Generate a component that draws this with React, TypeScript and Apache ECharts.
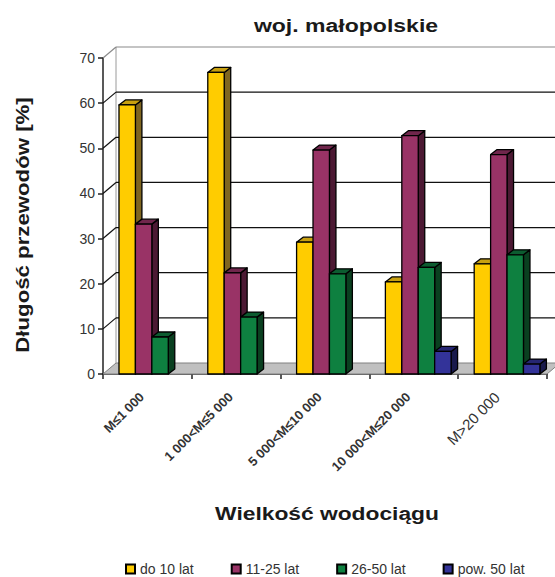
import React, { useEffect, useRef } from "react";
import * as echarts from "echarts";

const categories = ["M≤1 000", "1 000<M≤5 000", "5 000<M≤10 000", "10 000<M≤20 000", "M>20 000"];
const seriesNames = ["do 10 lat", "11-25 lat", "26-50 lat", "pow. 50 lat"];
const valuesA = [59.6, 66.8, 29.2, 20.4, 24.4];
const valuesB = [33.2, 22.4, 49.6, 52.8, 48.6];
const valuesC = [8.2, 12.6, 22.2, 23.6, 26.4];
const valuesD = [null, null, null, 5, 2.2];
const allValues = [valuesA, valuesB, valuesC, valuesD];
const yTicks = [0, 10, 20, 30, 40, 50, 60, 70];
const frontColors = ["#FFCC00", "#993366", "#0E8040", "#333399"];
const sideColors = ["#7F6620", "#4C1933", "#0A4020", "#191A4C"];
const topColors = ["#C8A010", "#70264C", "#0C5C30", "#262672"];

const FONT = "'Liberation Sans', Arial, sans-serif";
const WALL_DX = 13;
const WALL_DY = -11;
const BAR_DX = 6.5;
const BAR_DY = -5;

function renderWalls(_p: any, api: any) {
  const [cx, y0] = api.coord([0, 0]);
  const band = api.size([1, 0])[0];
  const x0 = cx - band / 2;
  const x1 = x0 + band * categories.length;
  const [, yTop] = api.coord([0, 70]);
  const children: any[] = [
    {
      type: "polygon",
      shape: { points: [[x0, y0], [x0 + WALL_DX, y0 + WALL_DY], [x1 + WALL_DX, y0 + WALL_DY], [x1, y0]] },
      style: { fill: "#C0C0C0", stroke: "#808080", lineWidth: 1 },
    },
    {
      type: "line",
      shape: { x1: x0 + WALL_DX, y1: yTop + WALL_DY, x2: x0 + WALL_DX, y2: y0 + WALL_DY },
      style: { stroke: "#9a9a9a", lineWidth: 1 },
    },
  ];
  yTicks.slice(1).forEach((t) => {
    const y = api.coord([0, t])[1];
    const stroke = t === 70 ? "#8a8a8a" : "#111111";
    const lineWidth = 1.2;
    children.push(
      { type: "line", shape: { x1: x0, y1: y, x2: x0 + WALL_DX, y2: y + WALL_DY }, style: { stroke, lineWidth } },
      { type: "line", shape: { x1: x0 + WALL_DX, y1: y + WALL_DY, x2: x1 + WALL_DX, y2: y + WALL_DY }, style: { stroke, lineWidth } },
    );
  });
  return { type: "group", children };
}

function makeBar(seriesIdx: number) {
  return (_p: any, api: any) => {
    const v = api.value(1);
    if (v == null || isNaN(v)) return null;
    const [cx, y0] = api.coord([api.value(0), 0]);
    const yv = api.coord([api.value(0), v])[1];
    const band = api.size([1, 0])[0];
    const w = band * 0.185;
    const left = cx - band * 0.32 + seriesIdx * w;
    const right = left + w;
    const style = (fill: string) => ({ fill, stroke: "#000", lineWidth: 1.3, lineJoin: "round" });
    return {
      type: "group",
      children: [
        {
          type: "polygon",
          shape: { points: [[right, yv], [right + BAR_DX, yv + BAR_DY], [right + BAR_DX, y0 + BAR_DY], [right, y0]] },
          style: style(sideColors[seriesIdx]),
        },
        {
          type: "polygon",
          shape: { points: [[left, yv], [left + BAR_DX, yv + BAR_DY], [right + BAR_DX, yv + BAR_DY], [right, yv]] },
          style: style(topColors[seriesIdx]),
        },
        { type: "rect", shape: { x: left, y: yv, width: w, height: y0 - yv }, style: style(frontColors[seriesIdx]) },
      ],
    };
  };
}

export default function App() {
  const ref = useRef<HTMLDivElement>(null);
  useEffect(() => {
    document.body.style.margin = "0";
    const chart = echarts.init(ref.current!, undefined, { renderer: "svg" });
    const headingStyle = (text: string, fontSize: number) => ({
      text,
      fill: "#1a1a1a",
      fontFamily: FONT,
      fontSize,
      fontWeight: "bold",
      textAlign: "center",
      textVerticalAlign: "middle",
    });
    chart.setOption({
      animation: false,
      backgroundColor: "#fff",
      textStyle: { fontFamily: FONT },
      graphic: [
        { type: "text", x: 346, y: 25, scaleX: 1.28, style: headingStyle("woj. małopolskie", 18) },
        { type: "text", x: 327, y: 513, scaleX: 1.2, style: headingStyle("Wielkość wodociągu", 19) },
        { type: "text", x: 22, y: 225, rotation: Math.PI / 2, scaleX: 1.17, style: headingStyle("Długość przewodów [%]", 19) },
      ],
      grid: { left: 103, right: 8, top: 58, bottom: 203 },
      legend: {
        data: seriesNames,
        icon: "rect",
        left: 125,
        top: 562,
        padding: 0,
        itemWidth: 9,
        itemHeight: 9,
        itemGap: 37,
        textStyle: { fontFamily: FONT, fontSize: 14, color: "#333" },
      },
      xAxis: {
        type: "category",
        data: categories.map((value, i) =>
          i === categories.length - 1
            ? { value, textStyle: { fontWeight: "normal", fontSize: 15, color: "#333" } }
            : { value },
        ),
        axisLine: { lineStyle: { color: "#222", width: 1.5 } },
        axisTick: { show: true, length: 5, alignWithLabel: false, lineStyle: { color: "#222", width: 1.5 } },
        axisLabel: {
          rotate: 45,
          interval: 0,
          fontFamily: FONT,
          fontSize: 13,
          fontWeight: "bold",
          color: "#333",
          margin: 15,
          padding: [0, 8, 0, 0],
        },
        splitLine: { show: false },
      },
      yAxis: {
        type: "value",
        min: 0,
        max: 70,
        interval: 10,
        axisLine: { show: true, lineStyle: { color: "#222", width: 1.5 } },
        axisTick: { show: true, length: 5, lineStyle: { color: "#222", width: 1.5 } },
        axisLabel: { fontFamily: FONT, fontSize: 14, color: "#333", margin: 8 },
        splitLine: { show: false },
      },
      series: [
        {
          type: "custom",
          name: "walls",
          silent: true,
          clip: false,
          z: 1,
          data: [[0, 0]],
          encode: { x: 0, y: 1 },
          renderItem: renderWalls,
        },
        ...seriesNames.map((name, i) => ({
          type: "custom",
          name,
          clip: false,
          z: 2 + i,
          itemStyle: { color: frontColors[i], borderColor: "#000", borderWidth: 1.5 },
          data: allValues[i].map((v, c) => [c, v]),
          encode: { x: 0, y: 1 },
          renderItem: makeBar(i),
        })),
      ],
    });
    return () => chart.dispose();
  }, []);
  return <div ref={ref} style={{ width: 555, height: 577 }} />;
}
